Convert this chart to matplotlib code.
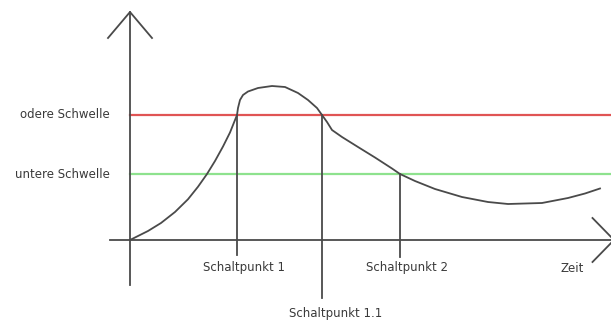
import matplotlib
matplotlib.use("Agg")
import matplotlib.pyplot as plt

# switching curve: time vs. signal level
t = [0, 0.12, 0.72, 1.24, 1.8, 2.32, 2.72, 3.08, 3.4, 3.72, 4.0, 4.2, 4.28,
     4.32, 4.4, 4.52, 4.72, 5.12, 5.68, 6.2, 6.72, 7.12, 7.48, 7.68, 7.88,
     8.08, 8.48, 9.12, 9.8, 10.48, 10.8, 11.4, 12.2, 13.28, 14.32, 15.12,
     16.48, 17.52, 18.2, 18.8]
level = [0, 0.06, 0.36, 0.68, 1.12, 1.63, 2.13, 2.64, 3.16, 3.74, 4.3, 4.8,
         5.0, 5.28, 5.6, 5.8, 5.94, 6.08, 6.16, 6.12, 5.88, 5.6, 5.28, 5.0,
         4.72, 4.4, 4.12, 3.72, 3.3, 2.86, 2.64, 2.36, 2.04, 1.72, 1.52,
         1.44, 1.48, 1.68, 1.86, 2.06]

upper = 5.0
lower = 2.64
threshold_labels = ["odere Schwelle", "untere Schwelle"]

switch_t = [4.28, 7.68, 10.8]
switch_level = [upper, upper, lower]
switch_labels = ["Schaltpunkt 1", "Schaltpunkt 1.1", "Schaltpunkt 2"]

ink = "#4a4a4a"
txt = "#3a3a3a"

fig = plt.figure(figsize=(6.11, 3.25), dpi=100)
ax = fig.add_axes([0, 0, 1, 1])
ax.set_xlim(-5.2, 19.24)
ax.set_ylim(-3.4, 9.6)
ax.axis("off")

# thresholds
ax.plot([0, 19.3], [upper, upper], color="#e05454", lw=1.6)
ax.plot([0, 19.3], [lower, lower], color="#8ee28e", lw=1.6)

# axes with arrow heads
ax.plot([0, 0], [-1.8, 9.12], color=ink, lw=1.3)
ax.plot([-0.88, 0, 0.88], [8.08, 9.12, 8.08], color=ink, lw=1.3)
ax.plot([-0.8, 19.36], [0, 0], color=ink, lw=1.3)
ax.plot([18.5, 19.36, 18.5], [0.88, 0, -0.88], color=ink, lw=1.3)

ax.plot(t, level, color=ink, lw=1.3, solid_joinstyle="round")

# switching points
drops = [-0.6, -2.32, -0.68]
label_pos = [(4.56, -1.12), (8.24, -2.96), (11.08, -1.12)]
for x, y, lo, (lx, ly), s in zip(switch_t, switch_level, drops, label_pos, switch_labels):
    ax.plot([x, x], [y, lo], color=ink, lw=1.3)
    ax.text(lx, ly, s, ha="center", va="center", fontsize=8.5, color=txt)

ax.text(17.68, -1.12, "Zeit", ha="center", va="center", fontsize=8.5, color=txt)

for y, s in zip([upper, lower], threshold_labels):
    ax.text(-0.8, y, s, ha="right", va="center", fontsize=8.5, color=txt)

fig.savefig("out.png", dpi=100)
